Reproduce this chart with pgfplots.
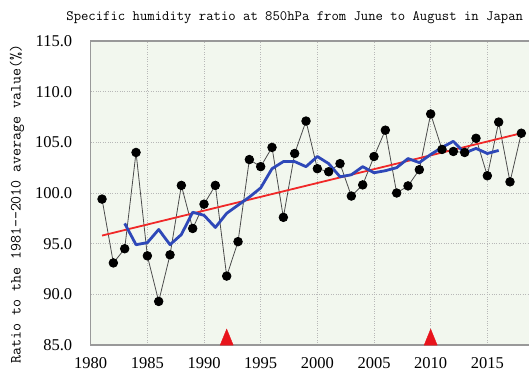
\documentclass[border=0pt]{standalone}
\usepackage{fontspec}
\setmainfont{Liberation Serif}
\newfontfamily\monofont{Latin Modern Mono}
\usepackage{pgfplots}
\pgfplotsset{compat=1.18}

\definecolor{plotbg}{HTML}{F2F7EE}
\definecolor{framegray}{HTML}{999999}
\definecolor{gridgray}{HTML}{B8B8B8}
\definecolor{meanblue}{HTML}{2E48B8}
\definecolor{trendred}{HTML}{F02828}
\definecolor{eventred}{HTML}{E8141C}

\begin{document}
\begin{tikzpicture}
% visible window: the axis runs on to 2020, the view stops a little past 2018
\path[use as bounding box] (-90.7pt,-27pt) rectangle (438.3pt,345pt);
\clip (-90.7pt,-27pt) rectangle (438.3pt,345pt);
\begin{axis}[
  at={(0pt,0pt)}, anchor=south west,
  scale only axis, width=453.3pt, height=304pt,
  xmin=1980, xmax=2020, ymin=85, ymax=115,
  xtick={1980,1985,...,2015}, ytick={85,90,...,115},
  extra x ticks={2020}, extra x tick labels={},
  axis background/.style={fill=plotbg},
  axis line style={framegray, line width=1.3pt},
  major tick length=0pt,
  grid=major,
  major grid style={gridgray, dotted, line width=0.7pt},
  tick label style={font=\fontsize{16.5}{18}\selectfont},
  /pgf/number format/assume math mode=true,
  xticklabel style={/pgf/number format/1000 sep={}, yshift=-9pt},
  yticklabel style={/pgf/number format/fixed, /pgf/number format/fixed zerofill,
                    /pgf/number format/precision=1, xshift=-15pt},
]
% annual values
\addplot[black!70, line width=0.8pt, mark=*, mark size=4.3pt,
         mark options={fill=black, draw=black}] coordinates {
  (1981,99.4) (1982,93.1) (1983,94.5) (1984,104.0) (1985,93.8)
  (1986,89.3) (1987,93.9) (1988,100.75) (1989,96.5) (1990,98.9)
  (1991,100.75) (1992,91.8) (1993,95.2) (1994,103.3) (1995,102.6)
  (1996,104.5) (1997,97.6) (1998,103.9) (1999,107.1) (2000,102.4)
  (2001,102.1) (2002,102.9) (2003,99.7) (2004,100.8) (2005,103.6)
  (2006,106.2) (2007,100.0) (2008,100.7) (2009,102.3) (2010,107.8)
  (2011,104.3) (2012,104.1) (2013,104.0) (2014,105.4) (2015,101.7)
  (2016,107.0) (2017,101.1) (2018,105.9)
};
% long-term trend
\addplot[trendred, line width=1.8pt] coordinates {(1981,95.8) (2018,105.9)};
% five-year running mean
\addplot[meanblue, line width=2.8pt, line join=round] coordinates {
  (1983,97.0) (1984,94.9) (1985,95.1) (1986,96.4) (1987,94.9)
  (1988,95.9) (1989,98.1) (1990,97.8) (1991,96.6) (1992,98.0)
  (1993,98.8) (1994,99.6) (1995,100.5) (1996,102.4) (1997,103.1)
  (1998,103.1) (1999,102.6) (2000,103.6) (2001,102.9) (2002,101.6)
  (2003,101.8) (2004,102.6) (2005,102.0) (2006,102.2) (2007,102.5)
  (2008,103.4) (2009,103.0) (2010,103.8) (2011,104.5) (2012,105.1)
  (2013,103.95) (2014,104.4) (2015,103.9) (2016,104.2)
};
% event markers on the bottom edge
\addplot[only marks, mark=triangle*, mark size=7.5pt,
         mark options={fill=eventred, draw=eventred, yscale=1.42}]
  coordinates {(1992,85.52) (2010,85.52)};
\end{axis}
\node[anchor=base, font=\monofont\fontsize{14.3}{16}\selectfont]
  at (204pt,324.3pt) {Specific humidity ratio at 850hPa from June to August in Japan};
\node[anchor=base, rotate=90, font=\monofont\fontsize{15.5}{17}\selectfont]
  at (-70pt,141pt) {Ratio to the 1981--2010 average value(\%)};
\end{tikzpicture}
\end{document}
